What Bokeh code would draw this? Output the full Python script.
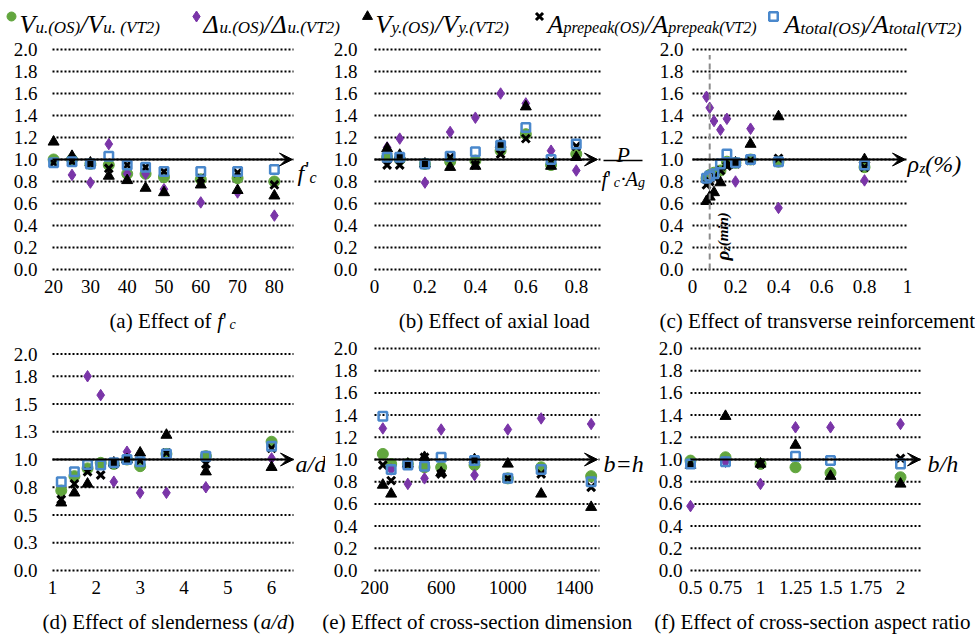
import math
from bokeh.plotting import figure
from bokeh.layouts import column, row
from bokeh.models import Range1d, FixedTicker, Arrow, VeeHead
from bokeh.core.properties import value
from bokeh.embed import file_html
from bokeh.resources import INLINE

NAN = float("nan")

# ---------------- data ----------------
# (a) effect of f'c
a_fc = [20, 25, 30, 35, 40, 45, 50, 60, 70, 80]
a_vu = [1.00, 1.00, 0.96, 0.95, 0.87, 0.87, 0.84, 0.82, 0.83, 0.80]
a_du = [NAN, 0.86, 0.79, 1.14, 0.87, 0.87, 0.73, 0.61, 0.70, 0.49]
a_vy = [1.16, 1.03, 0.97, 0.85, 0.81, 0.74, 0.70, 0.77, 0.72, 0.67]
a_ap = [0.97, 0.98, 0.96, 0.92, 0.95, 0.93, 0.89, 0.83, 0.88, 0.77]
a_at = [0.97, 0.98, 0.96, 1.03, 0.95, 0.93, 0.89, 0.89, 0.89, 0.91]

# (b) effect of axial load
b_p = [0.05, 0.1, 0.2, 0.3, 0.4, 0.5, 0.6, 0.7, 0.8]
b_vu = [1.02, 1.00, 0.96, 0.98, 0.99, 1.08, 1.23, 0.95, 1.05]
b_du = [1.11, 1.19, 0.79, 1.25, 1.38, 1.60, 1.51, 1.08, 0.90]
b_vy = [1.10, 1.04, 0.96, 0.93, 0.94, 1.14, 1.48, 0.94, 1.02]
b_ap = [0.95, 0.95, 0.96, 1.02, 0.95, 1.05, 1.19, 0.98, 1.12]
b_at = [1.02, 1.02, 0.96, 1.03, 1.07, 1.13, 1.29, 1.00, 1.14]

# (c) effect of transverse reinforcement
c_rho = [0.065, 0.08, 0.1, 0.13, 0.16, 0.2, 0.27, 0.4, 0.8]
c_vu = [0.83, 0.86, 0.88, 0.90, 0.98, 0.97, 1.00, 0.98, 0.93]
c_du = [1.57, 1.47, 1.35, 1.27, 1.37, 0.80, 1.28, 0.56, 0.81]
c_vy = [0.62, 0.66, 0.70, 0.79, 0.95, 0.97, 1.14, 1.39, 1.00]
c_ap = [0.77, 0.80, 0.84, 0.90, 0.94, 0.96, 0.99, 1.01, 0.93]
c_at = [0.83, 0.85, 0.87, 0.96, 1.05, 0.97, 1.00, 0.98, 0.95]
c_rho_min = 0.08

# (d) effect of slenderness
d_ad = [1.2, 1.5, 1.8, 2.1, 2.4, 2.7, 3.0, 3.6, 4.5, 6.0]
d_vu = [0.72, 0.85, 0.92, 0.97, 0.96, 1.00, 0.94, 1.05, 1.03, 1.16]
d_du = [NAN, NAN, 1.75, 1.58, 0.80, 1.07, 0.70, 0.70, 0.75, 1.01]
d_vy = [0.61, 0.70, 0.78, NAN, 0.97, 1.00, 1.06, 1.22, 0.89, 0.93]
d_ap = [0.64, 0.78, 0.89, 0.86, 0.96, 1.00, 0.99, 1.06, 0.96, 1.10]
d_at = [0.80, 0.89, 0.955, 0.95, 0.97, 1.00, 0.98, 1.05, 1.03, 1.12]

# (e) effect of cross-section dimension
e_bh = [250, 300, 400, 500, 600, 800, 1000, 1200, 1500]
e_vu = [1.05, 0.96, 0.96, 0.93, 0.93, 0.95, 0.83, 0.93, 0.85]
e_du = [1.28, 0.91, 0.78, 0.83, 1.27, 0.86, 1.27, 1.37, 1.32]
e_vy = [0.77, 0.69, 0.96, 1.02, 0.88, 1.00, 0.96, 0.69, 0.57]
e_ap = [0.95, 0.81, 0.96, 1.02, 0.87, 0.99, 0.83, 0.87, 0.75]
e_at = [1.39, 0.91, 0.95, 0.94, 1.02, 0.99, 0.83, 0.91, 0.80]

# (f) effect of cross-section aspect ratio
f_r = [0.5, 0.75, 1.0, 1.25, 1.5, 2.0]
f_vu = [0.99, 1.02, 0.96, 0.93, 0.88, 0.84]
f_du = [0.58, 0.98, 0.78, 1.29, 1.29, 1.32]
f_vy = [0.95, 1.39, 0.96, 1.13, 0.85, 0.78]
f_ap = [NAN, NAN, 0.96, NAN, NAN, 1.01]
f_at = [0.96, 0.98, NAN, 1.03, 0.99, 0.96]

# ticks
y_ticks = [0.0, 0.2, 0.4, 0.6, 0.8, 1.0, 1.2, 1.4, 1.6, 1.8, 2.0]
y_labels = ["0.0", "0.2", "0.4", "0.6", "0.8", "1.0", "1.2", "1.4", "1.6", "1.8", "2.0"]
d_y_ticks = [0.0, 0.25, 0.5, 0.75, 1.0, 1.25, 1.5, 1.75, 1.95]
d_y_labels = ["0.0", "0.3", "0.5", "0.8", "1.0", "1.3", "1.5", "1.8", "2.0"]
a_x_ticks = [20, 30, 40, 50, 60, 70, 80]
a_x_labels = ["20", "30", "40", "50", "60", "70", "80"]
b_x_ticks = [0, 0.2, 0.4, 0.6, 0.8]
b_x_labels = ["0", "0.2", "0.4", "0.6", "0.8"]
c_x_ticks = [0, 0.2, 0.4, 0.6, 0.8, 1.0]
c_x_labels = ["0", "0.2", "0.4", "0.6", "0.8", "1"]
d_x_ticks = [1, 2, 3, 4, 5, 6]
d_x_labels = ["1", "2", "3", "4", "5", "6"]
e_x_ticks = [200, 600, 1000, 1400]
e_x_labels = ["200", "600", "1000", "1400"]
f_x_ticks = [0.5, 0.75, 1.0, 1.25, 1.5, 1.75, 2.0]
f_x_labels = ["0.5", "0.75", "1", "1.25", "1.5", "1.75", "2"]

# ---------------- style ----------------
FONT = "Liberation Serif"
GREEN = "#62a63e"
PURPLE = "#7a35a8"
BLUE = "#4a88cc"

ROMAN = {' ': 250, '(': 333, ')': 333, 'a': 444, 'b': 500, 'c': 444, 'd': 500, 'e': 444, 'f': 333,
         'g': 500, 'h': 500, 'i': 278, 'l': 278, 'm': 778, 'n': 500, 'o': 500, 'p': 500, 'r': 333,
         's': 389, 't': 278, 'u': 500, 'v': 500, 'x': 500, 'E': 611, '-': 333, '.': 250, '/': 278,
         "'": 333, '\u00b7': 250}
ITALIC = {' ': 250, '(': 333, ')': 333, 'a': 500, 'b': 500, 'c': 444, 'd': 500, 'e': 444, 'f': 278,
          'g': 500, 'h': 500, 'i': 278, 'k': 444, 'l': 278, 'm': 722, 'n': 500, 'o': 500, 'p': 500,
          'r': 389, 't': 278, 'u': 500, 'y': 444, 'z': 389, '.': 250, '/': 278, "'": 333, '=': 675,
          '%': 833, 'A': 611, 'O': 722, 'P': 611, 'S': 500, 'T': 556, 'V': 611, '2': 500,
          '\u0394': 612, '\u03c1': 500, '\u00b7': 250}


def tw(s, size, style):
    table = ITALIC if "italic" in style else ROMAN
    return sum(table.get(ch, 500) for ch in s) * size / 1000.0


def put(p, x, y, s, size, style="normal", angle=0.0, align="left"):
    p.text(x=[x], y=[y], text=[s], text_font=value(FONT), text_font_size=value("%.1fpx" % size),
           text_font_style=style, text_align=align, text_baseline="alphabetic",
           angle=angle, text_color="black")


def run(p, pieces, x0, base, cx=lambda v: v, cy=lambda v: v):
    x = x0
    for s, size, style, dy in pieces:
        put(p, cx(x), cy(base + dy), s, size, style)
        x += tw(s, size, style)
    return x


def run_width(pieces):
    return sum(tw(s, size, style) for s, size, style, dy in pieces)


TOP = dict(fy0=38, fh=267, y0px=269, y2px=49)
BOT = dict(fy0=338, fh=267, y0px=570, y2px=348)
FW = 325


def make_panel(g, rg, xs, vu, du, vy, ap, at, xticks, xlabels, yticks, ylabels):
    fx0 = g["fx0"]
    gl, gr, xlo, xhi = g["gl"], g["gr"], g["xlo"], g["xhi"]
    y0px, y2px = rg["y0px"], rg["y2px"]
    sx = (gr - gl) / (xhi - xlo)
    sy = (y0px - y2px) / 2.0
    fl = gl - g["pad"]
    fr = fx0 + FW
    ft = y2px - 7
    fb = y0px + 6

    def X(px):
        return xlo + (px - gl) / sx

    def Y(py):
        return (y0px - py) / sy

    p = figure(width=FW, height=rg["fh"], x_range=Range1d(X(fl), X(fr)), y_range=Range1d(Y(fb), Y(ft)),
               output_backend="svg", toolbar_location=None, title=None,
               min_border_left=fl - fx0, min_border_right=0, min_border_top=ft - rg["fy0"],
               min_border_bottom=rg["fy0"] + rg["fh"] - fb)
    p.outline_line_color = None
    p.background_fill_color = "white"
    p.border_fill_color = "white"
    p.xgrid.visible = False
    p.ygrid.visible = False
    for ax in (p.xaxis[0], p.yaxis[0]):
        ax.axis_line_color = None
        ax.major_tick_line_color = None
        ax.minor_tick_line_color = None
        ax.major_tick_out = 0
        ax.major_tick_in = 0
        ax.major_label_text_font = FONT
        ax.major_label_text_font_size = "19px"
        ax.major_label_text_color = "black"
    p.xaxis[0].ticker = FixedTicker(ticks=xticks)
    p.xaxis[0].major_label_overrides = {t: l for t, l in zip(xticks, xlabels)}
    p.xaxis[0].major_label_standoff = 4
    p.yaxis[0].ticker = FixedTicker(ticks=yticks)
    p.yaxis[0].major_label_overrides = {t: l for t, l in zip(yticks, ylabels)}
    p.yaxis[0].major_label_standoff = g["standoff"]

    # dotted gridlines
    n = len(yticks)
    p.segment(x0=[xlo] * n, y0=yticks, x1=[xhi] * n, y1=yticks, line_color="black",
              line_width=2, line_dash="2 2")
    # axis arrow at 1.0
    p.add_layout(Arrow(x_start=xlo, y_start=1.0, x_end=X(g["tip"]), y_end=1.0, line_color="black",
                       line_width=2, end=VeeHead(size=13, fill_color="black", line_color="black",
                                                 line_width=1)))
    # series
    p.scatter(xs, vu, marker="circle", size=11, fill_color=GREEN, line_color=GREEN)
    p.scatter(xs, du, marker="diamond", size=11.5, fill_color=PURPLE, line_color=PURPLE)
    p.scatter(xs, vy, marker="triangle", size=11, fill_color="black", line_color="black")
    p.scatter(xs, ap, marker="x", size=11, line_color="black", line_width=3)
    p.scatter(xs, at, marker="square", size=8.5, fill_color=None, line_color=BLUE, line_width=2.5)
    return p, X, Y


GA = dict(fx0=0, gl=52, gr=293, xlo=19.7, xhi=85.2, pad=10, standoff=5, tip=292)
GB = dict(fx0=325, gl=374, gr=601, xlo=0.0, xhi=0.9, pad=10, standoff=7, tip=597)
GC = dict(fx0=650, gl=692, gr=907, xlo=0.0, xhi=1.0, pad=7, standoff=2, tip=905)
GD = dict(fx0=0, gl=52, gr=293, xlo=1.0, xhi=6.5, pad=10, standoff=5, tip=293)
GE = dict(fx0=325, gl=374, gr=599, xlo=200.0, xhi=1550.0, pad=10, standoff=7, tip=597)
GF = dict(fx0=650, gl=690, gr=921, xlo=0.5, xhi=2.15, pad=7, standoff=1, tip=920)

pa, Xa, Ya = make_panel(GA, TOP, a_fc, a_vu, a_du, a_vy, a_ap, a_at, a_x_ticks, a_x_labels, y_ticks, y_labels)
pb, Xb, Yb = make_panel(GB, TOP, b_p, b_vu, b_du, b_vy, b_ap, b_at, b_x_ticks, b_x_labels, y_ticks, y_labels)
pc, Xc, Yc = make_panel(GC, TOP, c_rho, c_vu, c_du, c_vy, c_ap, c_at, c_x_ticks, c_x_labels, y_ticks, y_labels)
pd_, Xd, Yd = make_panel(GD, BOT, d_ad, d_vu, d_du, d_vy, d_ap, d_at, d_x_ticks, d_x_labels, d_y_ticks, d_y_labels)
pe, Xe, Ye = make_panel(GE, BOT, e_bh, e_vu, e_du, e_vy, e_ap, e_at, e_x_ticks, e_x_labels, y_ticks, y_labels)
pf, Xf, Yf = make_panel(GF, BOT, f_r, f_vu, f_du, f_vy, f_ap, f_at, f_x_ticks, f_x_labels, y_ticks, y_labels)

IT = "italic"
# axis names at the arrow tips
put(pa, Xa(297), Ya(172), "f", 24, IT)
put(pa, Xa(305), Ya(168), "'", 20, "normal")
put(pa, Xa(309), Ya(177), "c", 16, IT)
put(pb, Xb(616), Yb(154), "P", 22, IT)
pb.segment(x0=[Xb(603)], y0=[Yb(160)], x1=[Xb(642)], y1=[Yb(160)], line_color="black", line_width=1.5)
run(pb, [("f", 21, IT, 0), ("'", 19, "normal", 0), ("c", 14, IT, 4), ("\u00b7", 21, "normal", 0),
         ("A", 21, IT, 0), ("g", 14, IT, 4)], 601, 178, Xb, Yb)
run(pc, [("\u03c1", 24, IT, 0), ("z", 15, IT, 4), (" (%)", 24, IT, 0)], 907, 163, Xc, Yc)
run(pd_, [("a/d", 24, IT, 0)], 295, 463, Xd, Yd)
run(pe, [("b=h", 24, IT, 0)], 603, 463, Xe, Ye)
run(pf, [("b/h", 24, IT, 0)], 927, 463, Xf, Yf)

# minimum transverse reinforcement marker in (c)
pc.segment(x0=[c_rho_min], y0=[0.0], x1=[c_rho_min], y1=[1.95], line_color="#8c8c8c", line_width=2,
           line_dash="6 4")
yy = 260.0
for s, size, dx in [("\u03c1", 19, 0), ("z", 12, 3), (" (min)", 15, 0)]:
    put(pc, Xc(722 + dx), Yc(yy), s, size, "bold italic", angle=math.pi / 2)
    yy -= tw(s, size, IT)

# ---------------- legend ----------------
leg = figure(width=975, height=38, x_range=Range1d(0, 975), y_range=Range1d(38, 0),
             output_backend="svg", toolbar_location=None, title=None, x_axis_type=None,
             y_axis_type=None, min_border=0)
leg.outline_line_color = None
M = 26
legend_entries = [
    ("circle", [("V", M, IT, 0), ("u.(OS)", 17, IT, 3), ("/", M, IT, 0), ("V", M, IT, 0), ("u. (VT2)", 17, IT, 3)], 19, 11),
    ("diamond", [("\u0394", M, IT, 0), ("u.(OS)", 17, IT, 3), ("/", M, IT, 0), ("\u0394", M, IT, 0), ("u.(VT2)", 17, IT, 3)], 203, 196),
    ("triangle", [("V", M, IT, 0), ("y.(OS)", 17, IT, 3), ("/", M, IT, 0), ("V", M, IT, 0), ("y.(VT2)", 17, IT, 3)], 375, 367),
    ("x", [("A", M, IT, 0), ("prepeak(OS)", 16, IT, 3), ("/", M, IT, 0), ("A", M, IT, 0), ("prepeak(VT2)", 16, IT, 3)], 547, 539),
    ("square", [("A", M, IT, 0), ("total(OS)", 17.5, IT, 3), ("/", M, IT, 0), ("A", M, IT, 0), ("total(VT2)", 17.5, IT, 3)], 784, 773),
]
for marker, pieces, x0, mx in legend_entries:
    run(leg, pieces, x0, 24)
    if marker == "circle":
        leg.scatter([mx], [16], marker="circle", size=9, fill_color=GREEN, line_color=GREEN)
    elif marker == "diamond":
        leg.scatter([mx], [16], marker="diamond", size=11, fill_color=PURPLE, line_color=PURPLE)
    elif marker == "triangle":
        leg.scatter([mx], [16], marker="triangle", size=10, fill_color="black", line_color="black")
    elif marker == "x":
        leg.scatter([mx], [16], marker="x", size=10, line_color="black", line_width=3)
    else:
        leg.scatter([mx], [16], marker="square", size=8.5, fill_color="white", line_color=BLUE, line_width=2.5)

# ---------------- captions ----------------
def caption_fig(h):
    c = figure(width=975, height=h, x_range=Range1d(0, 975), y_range=Range1d(h, 0),
               output_backend="svg", toolbar_location=None, title=None, x_axis_type=None,
               y_axis_type=None, min_border=0)
    c.outline_line_color = None
    return c


CS = 21
cap1 = caption_fig(33)
cap2 = caption_fig(37)
top_caps = [
    ([("(a) Effect of ", CS, "normal", 0), ("f", CS, IT, 0), ("'", CS - 2, "normal", 0), ("c", 14, IT, 4)], 172),
    ([("(b) Effect of axial load", CS, "normal", 0)], 494),
    ([("(c) Effect of transverse reinforcement", CS, "normal", 0)], 817),
]
bot_caps = [
    ([("(d) Effect of slenderness (", CS, "normal", 0), ("a/d", CS, IT, 0), (")", CS, "normal", 0)], 168),
    ([("(e) Effect of cross-section dimension", CS, "normal", 0)], 477),
    ([("(f) Effect of cross-section aspect ratio", CS, "normal", 0)], 812),
]
for pieces, cx in top_caps:
    run(cap1, pieces, cx - run_width(pieces) / 2.0, 15)
for pieces, cx in bot_caps:
    run(cap2, pieces, cx - run_width(pieces) / 2.0, 16)

layout = column(leg, row(pa, pb, pc), cap1, row(pd_, pe, pf), cap2)
open("out.html", "w").write(file_html(layout, INLINE))
